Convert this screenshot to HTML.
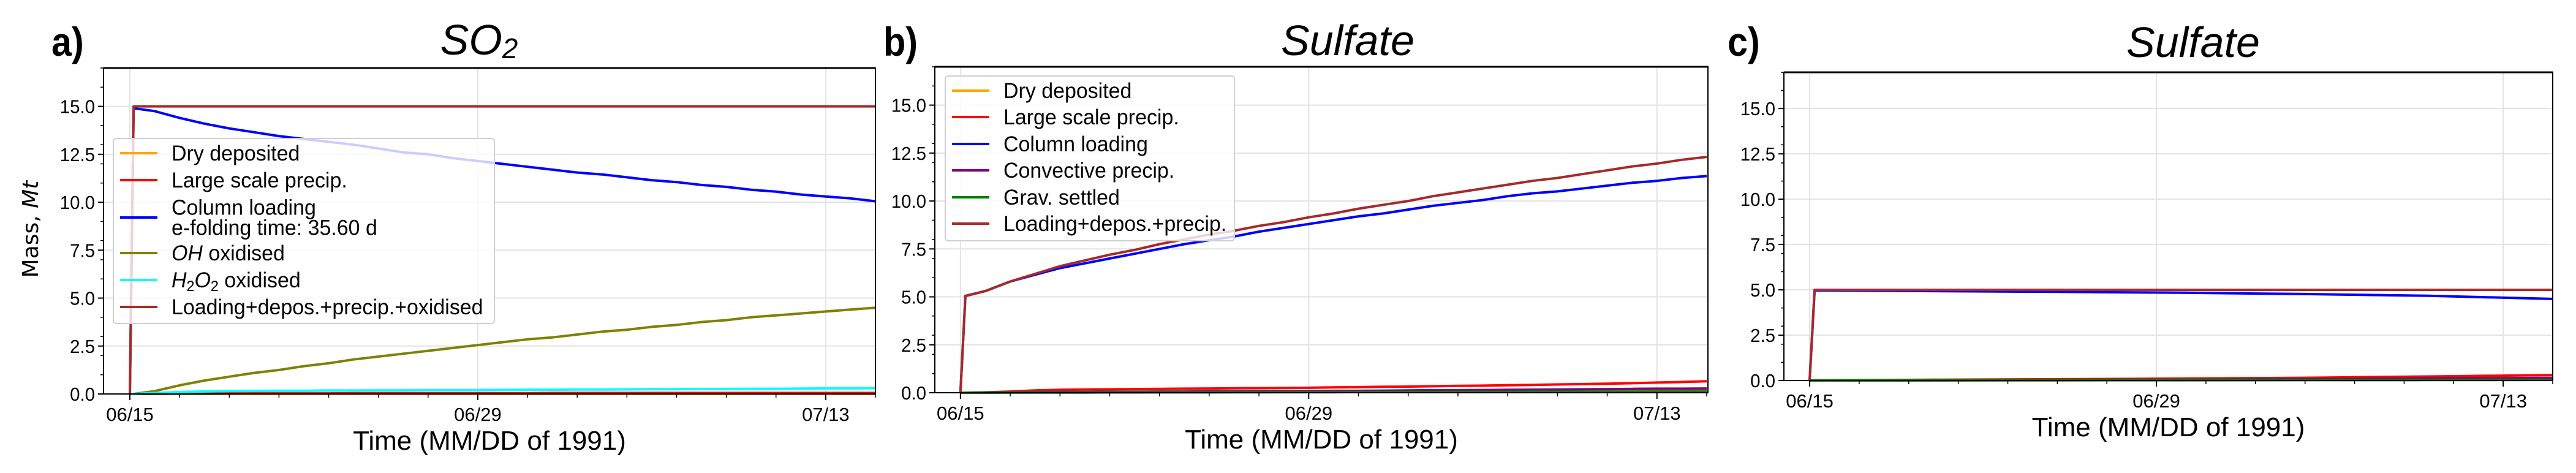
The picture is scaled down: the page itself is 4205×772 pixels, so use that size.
<!DOCTYPE html>
<html><head><meta charset="utf-8"><style>
html,body{margin:0;padding:0;background:#fff;}
svg{display:block;font-family:"Liberation Sans Narrow","Liberation Sans",sans-serif;}
</style></head><body>
<svg id="fig" width="4205" height="772" viewBox="0 0 4205 772" xmlns="http://www.w3.org/2000/svg"></svg>
<script>
// ---- data ----
const dayTickLabels = ["06/15", "06/29", "07/13"];
const dayTickValues = [0, 14, 28];
const yTickValues = [0, 2.5, 5, 7.5, 10, 12.5, 15];
const yTickLabels = ["0.0", "2.5", "5.0", "7.5", "10.0", "12.5", "15.0"];

// Panel a (SO2)
const daysA = [0,0.15,1,2,3,4,5,6,7,8,9,10,11,12,13,14,15,16,17,18,19,20,21,22,23,24,25,26,27,28,29,30];
const so2Column = [0,14.9,14.75,14.4,14.1,13.85,13.65,13.45,13.3,13.15,13.0,12.8,12.6,12.5,12.3,12.15,12.0,11.85,11.7,11.55,11.45,11.3,11.15,11.05,10.9,10.8,10.65,10.55,10.4,10.3,10.2,10.05];
const so2OH = [0,0,0.15,0.45,0.7,0.9,1.1,1.25,1.45,1.6,1.8,1.95,2.1,2.25,2.4,2.55,2.7,2.85,2.95,3.1,3.25,3.35,3.5,3.6,3.75,3.85,4.0,4.1,4.2,4.3,4.4,4.5];
const so2H2O2 = [0,0,0.05,0.1,0.13,0.15,0.16,0.17,0.17,0.18,0.18,0.19,0.19,0.2,0.2,0.2,0.21,0.22,0.22,0.23,0.23,0.24,0.25,0.25,0.26,0.26,0.27,0.27,0.28,0.29,0.29,0.3];
const so2Large = [0,0,0.01,0.02,0.02,0.03,0.03,0.03,0.03,0.03,0.04,0.04,0.04,0.04,0.04,0.04,0.04,0.04,0.05,0.05,0.05,0.05,0.05,0.05,0.05,0.05,0.05,0.05,0.05,0.05,0.05,0.05];
const so2Dry = [0,0,0.005,0.01,0.01,0.01,0.01,0.01,0.01,0.01,0.01,0.01,0.01,0.01,0.01,0.01,0.01,0.01,0.01,0.01,0.01,0.01,0.01,0.01,0.01,0.01,0.01,0.01,0.01,0.01,0.01,0.01];
const so2Total = [0,15,15,15,15,15,15,15,15,15,15,15,15,15,15,15,15,15,15,15,15,15,15,15,15,15,15,15,15,15,15,15];

// Panel b (Sulfate)
const daysB = [0,0.2,1,2,3,4,5,6,7,8,9,10,11,12,13,14,15,16,17,18,19,20,21,22,23,24,25,26,27,28,29,30];
const sulTotalB = [0,5.05,5.3,5.8,6.2,6.6,6.9,7.2,7.45,7.75,8.0,8.25,8.45,8.7,8.9,9.15,9.35,9.6,9.8,10.0,10.25,10.45,10.65,10.85,11.05,11.2,11.4,11.6,11.8,11.95,12.15,12.3];
const sulColumnB = [0,5.05,5.3,5.8,6.15,6.5,6.75,7.0,7.25,7.5,7.75,7.95,8.15,8.4,8.6,8.8,9.0,9.2,9.35,9.55,9.75,9.9,10.05,10.25,10.4,10.5,10.65,10.8,10.95,11.05,11.2,11.3];
const sulLargeB = [0,0,0.02,0.06,0.12,0.15,0.17,0.18,0.19,0.2,0.21,0.22,0.23,0.24,0.25,0.26,0.28,0.29,0.31,0.32,0.34,0.36,0.37,0.39,0.41,0.43,0.45,0.47,0.5,0.53,0.56,0.6];
const sulConvB = [0,0,0.01,0.02,0.03,0.04,0.04,0.05,0.05,0.06,0.06,0.07,0.07,0.08,0.08,0.09,0.1,0.1,0.11,0.12,0.13,0.13,0.14,0.15,0.16,0.17,0.18,0.19,0.2,0.21,0.21,0.22];
const sulGravB = [0,0,0,0.005,0.01,0.01,0.01,0.015,0.015,0.02,0.02,0.02,0.025,0.025,0.03,0.03,0.03,0.035,0.035,0.04,0.04,0.04,0.045,0.045,0.05,0.05,0.05,0.055,0.055,0.06,0.06,0.06];
const sulDryB = [0,0,0.005,0.01,0.015,0.02,0.02,0.025,0.03,0.03,0.035,0.04,0.04,0.045,0.05,0.05,0.055,0.06,0.06,0.065,0.07,0.07,0.075,0.08,0.08,0.085,0.09,0.09,0.095,0.1,0.1,0.1];

// Panel c (Sulfate, single pulse)
const daysC = [0,0.2,5,10,15,20,25,30];
const sulTotalC = [0,5.0,5.0,5.0,5.0,5.0,5.0,5.0];
const sulColumnC = [0,4.97,4.93,4.89,4.84,4.77,4.67,4.5];
const sulLargeC = [0,0,0.04,0.07,0.1,0.15,0.22,0.3];
const sulConvC = [0,0,0.01,0.02,0.04,0.07,0.1,0.15];
const sulGravC = [0,0,0.005,0.01,0.015,0.02,0.025,0.03];
const sulDryC = [0,0,0.01,0.02,0.03,0.04,0.05,0.06];

const NS = "http://www.w3.org/2000/svg";
const svg = document.getElementById("fig");
function mk(tag, attrs, parent) {
  const e = document.createElementNS(NS, tag);
  for (const k in attrs) e.setAttribute(k, attrs[k]);
  (parent || svg).appendChild(e);
  return e;
}
function txt(x, y, attrs, parent, sq) {
  attrs.x = 0; attrs.y = 0;
  attrs.transform = "translate(" + x + "," + y + ") scale(" + (sq || 1) + ",1)";
  return mk("text", attrs, parent);
}

function panel(cfg) {
  const g = mk("g", {});
  
  
  const xs = d => cfg.L + (d - cfg.xmin) / (cfg.xmax - cfg.xmin) * (cfg.R - cfg.L);
  const ys = v => cfg.B - v / 17 * (cfg.B - cfg.T);
  dayTickValues.forEach(d => {
    const l = mk("line", {x1: xs(d), x2: xs(d), y1: cfg.T, y2: cfg.B, stroke: "#e3e3e3", "stroke-width": 2}, g);
    
    
  });
  yTickValues.forEach(v => {
    const l = mk("line", {x1: cfg.L, x2: cfg.R, y1: ys(v), y2: ys(v), stroke: "#e3e3e3", "stroke-width": 2}, g);
    
    
  });
  cfg.series.forEach(s => {
    const pts = s.x.map((d, i) => xs(d).toFixed(1) + "," + ys(s.y[i]).toFixed(1)).join(" ");
    const p = mk("polyline", {points: pts, fill: "none", stroke: s.color, "stroke-width": 4, "stroke-linejoin": "round"}, g);
    
    
  });
  const fr = mk("rect", {x: cfg.L, y: cfg.T, width: cfg.R - cfg.L, height: cfg.B - cfg.T, fill: "none", stroke: "#000", "stroke-width": 2}, g);
  
  
  mk("line", {x1: cfg.L, x2: cfg.R, y1: cfg.T, y2: cfg.T, stroke: "#000", "stroke-width": 3}, g);
  yTickValues.forEach((v, i) => {
    mk("line", {x1: cfg.L - 9, x2: cfg.L, y1: ys(v), y2: ys(v), stroke: "#000", "stroke-width": 2}, g);
    const t = txt(cfg.L - 14, ys(v) + 11, {"text-anchor": "end", "font-size": 31}, g, 0.95);
    t.textContent = yTickLabels[i];
    
    
  });
  for (let v = 0; v <= 17; v += 1) {
    mk("line", {x1: cfg.L - 5, x2: cfg.L, y1: ys(v), y2: ys(v), stroke: "#000", "stroke-width": 1.5}, g);
  }
  for (let d = 0; d <= 30; d += 2) {
    mk("line", {x1: xs(d), x2: xs(d), y1: cfg.B, y2: cfg.B + 6, stroke: "#000", "stroke-width": 1.5}, g);
  }
  dayTickValues.forEach((d, i) => {
    mk("line", {x1: xs(d), x2: xs(d), y1: cfg.B, y2: cfg.B + 10, stroke: "#000", "stroke-width": 2}, g);
    const t = txt(xs(d), cfg.B + 44, {"text-anchor": "middle", "font-size": 31}, g, 1);
    t.textContent = dayTickLabels[i];
    
    
  });
  const xl = txt((cfg.L + cfg.R) / 2, cfg.B + 91, {"text-anchor": "middle", "font-size": 44}, g, 1);
  xl.textContent = "Time (MM/DD of 1991)";
  
  
  const ti = txt(cfg.titleX, cfg.titleY, {"text-anchor": "middle", "font-size": 70, "font-style": "italic"}, g, 1);
  ti.innerHTML = cfg.title;
  
  
  const lt = txt(cfg.letterX, 91, {"font-size": 66, "font-weight": "bold"}, g, 0.9);
  lt.textContent = cfg.letter;
  
  
  if (cfg.legend) {
    const lg = cfg.legend;
    const lgG = mk("g", {}, g);
    
    
    mk("rect", {x: lg.x, y: lg.y, width: lg.w, height: lg.h, rx: 5, fill: "rgba(255,255,255,0.8)", stroke: "#d0d0d0", "stroke-width": 2}, lgG);
    lg.items.forEach(it => {
      const e = mk("g", {}, lgG);
      
      
      mk("line", {x1: lg.x + 11, x2: lg.x + 72, y1: it.y, y2: it.y, stroke: it.color, "stroke-width": 4}, e);
      it.lines.forEach((ln, k) => {
        const t = txt(lg.x + 95, it.y + 12 + (k - (it.lines.length - 1) / 2) * 33, {"font-size": 35}, e, 0.97);
        t.innerHTML = ln;
      });
    });
  }
}

panel({name: "panel-a-so2", L: 169, R: 1429, T: 111, B: 643, xmin: -1.06, xmax: 30,
  title: "SO<tspan font-size='46' dy='6'>2</tspan>", titleX: 782, titleY: 89, letter: "a)", letterX: 84,
  series: [
    {id: "line-dry-deposited", x: daysA, y: so2Dry, color: "orange"},
    {id: "line-large-scale-precip", x: daysA, y: so2Large, color: "red"},
    {id: "line-column-loading", x: daysA, y: so2Column, color: "blue"},
    {id: "line-oh-oxidised", x: daysA, y: so2OH, color: "olive"},
    {id: "line-h2o2-oxidised", x: daysA, y: so2H2O2, color: "cyan"},
    {id: "line-total", x: daysA, y: so2Total, color: "#a52a2a"}
  ],
  legend: {x: 185, y: 226, w: 622, h: 302, items: [
    {y: 250, color: "orange", lines: ["Dry deposited"]},
    {y: 294, color: "red", lines: ["Large scale precip."]},
    {y: 355, color: "blue", lines: ["Column loading", "e-folding time: 35.60 d"]},
    {y: 413, color: "olive", lines: ["<tspan font-style='italic'>OH</tspan> oxidised"]},
    {y: 457, color: "cyan", lines: ["<tspan font-style='italic'>H</tspan><tspan font-size='24' dy='6'>2</tspan><tspan font-style='italic' dy='-6'>O</tspan><tspan font-size='24' dy='6'>2</tspan><tspan dy='-6'> oxidised</tspan>"]},
    {y: 501, color: "#a52a2a", lines: ["Loading+depos.+precip.+oxidised"]}
  ]}
});

panel({name: "panel-b-sulfate", L: 1526, R: 2788, T: 109, B: 641, xmin: -1.03, xmax: 30.05,
  title: "Sulfate", titleX: 2200, titleY: 90, letter: "b)", letterX: 1442,
  series: [
    {id: "line-dry-deposited", x: daysB, y: sulDryB, color: "orange"},
    {id: "line-large-scale-precip", x: daysB, y: sulLargeB, color: "red"},
    {id: "line-column-loading", x: daysB, y: sulColumnB, color: "blue"},
    {id: "line-convective-precip", x: daysB, y: sulConvB, color: "purple"},
    {id: "line-grav-settled", x: daysB, y: sulGravB, color: "green"},
    {id: "line-total", x: daysB, y: sulTotalB, color: "#a52a2a"}
  ],
  legend: {x: 1543, y: 124, w: 472, h: 269, items: [
    {y: 148, color: "orange", lines: ["Dry deposited"]},
    {y: 191, color: "red", lines: ["Large scale precip."]},
    {y: 235, color: "blue", lines: ["Column loading"]},
    {y: 278, color: "purple", lines: ["Convective precip."]},
    {y: 322, color: "green", lines: ["Grav. settled"]},
    {y: 365, color: "#a52a2a", lines: ["Loading+depos.+precip."]}
  ]}
});

panel({name: "panel-c-sulfate", L: 2912, R: 4167, T: 118, B: 621, xmin: -1.04, xmax: 30,
  title: "Sulfate", titleX: 3580, titleY: 93, letter: "c)", letterX: 2820,
  series: [
    {id: "line-dry-deposited", x: daysC, y: sulDryC, color: "orange"},
    {id: "line-large-scale-precip", x: daysC, y: sulLargeC, color: "red"},
    {id: "line-column-loading", x: daysC, y: sulColumnC, color: "blue"},
    {id: "line-convective-precip", x: daysC, y: sulConvC, color: "purple"},
    {id: "line-grav-settled", x: daysC, y: sulGravC, color: "green"},
    {id: "line-total", x: daysC, y: sulTotalC, color: "#a52a2a"}
  ]
});

const yl = mk("text", {x: 0, y: 0, "text-anchor": "middle", "font-size": 36, "font-family": "DejaVu Sans, sans-serif", transform: "translate(62,374) rotate(-90)"});
yl.innerHTML = "Mass, <tspan font-style='italic'>Mt</tspan>";


</script>
</body></html>
